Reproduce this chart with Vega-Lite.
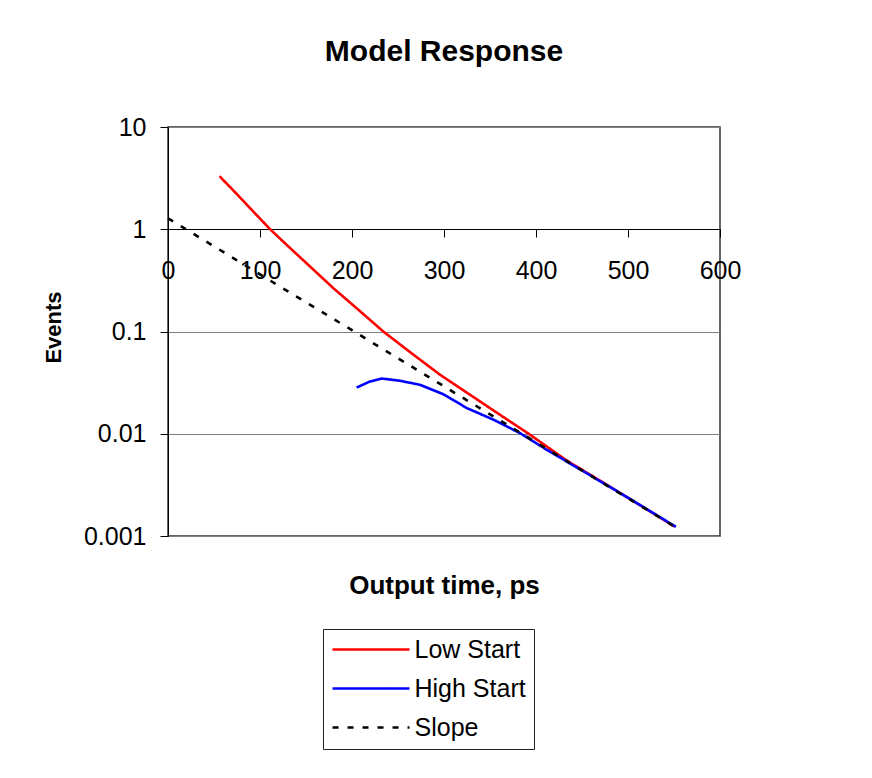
{
  "$schema": "https://vega.github.io/schema/vega-lite/v6.json",
  "width": 552,
  "height": 409,
  "autosize": {"type": "none"},
  "padding": {"left": 168, "top": 127, "right": 152, "bottom": 242},
  "background": "white",
  "title": {"text": "Model Response", "fontSize": 30, "fontWeight": "bold", "font": "Liberation Sans", "color": "#000", "anchor": "middle", "offset": 48},
  "data": {"values": [
    {"s": "Low Start", "t": 56, "v": 3.3},
    {"s": "Low Start", "t": 75, "v": 2.2},
    {"s": "Low Start", "t": 90, "v": 1.58},
    {"s": "Low Start", "t": 111, "v": 1.0},
    {"s": "Low Start", "t": 130, "v": 0.69},
    {"s": "Low Start", "t": 150, "v": 0.47},
    {"s": "Low Start", "t": 180, "v": 0.264},
    {"s": "Low Start", "t": 205, "v": 0.169},
    {"s": "Low Start", "t": 234, "v": 0.1},
    {"s": "Low Start", "t": 265, "v": 0.061},
    {"s": "Low Start", "t": 296, "v": 0.0376},
    {"s": "Low Start", "t": 330, "v": 0.0235},
    {"s": "Low Start", "t": 360, "v": 0.0155},
    {"s": "Low Start", "t": 392, "v": 0.01},
    {"s": "Low Start", "t": 433, "v": 0.0055},
    {"s": "Low Start", "t": 470, "v": 0.00346},
    {"s": "Low Start", "t": 510, "v": 0.00208},
    {"s": "Low Start", "t": 551, "v": 0.00123},
    {"s": "High Start", "t": 205, "v": 0.0283},
    {"s": "High Start", "t": 218, "v": 0.032},
    {"s": "High Start", "t": 232, "v": 0.0347},
    {"s": "High Start", "t": 252, "v": 0.033},
    {"s": "High Start", "t": 274, "v": 0.0301},
    {"s": "High Start", "t": 299, "v": 0.0244},
    {"s": "High Start", "t": 325, "v": 0.0178},
    {"s": "High Start", "t": 354, "v": 0.0137},
    {"s": "High Start", "t": 383, "v": 0.0101},
    {"s": "High Start", "t": 412, "v": 0.00694},
    {"s": "High Start", "t": 450, "v": 0.00437},
    {"s": "High Start", "t": 500, "v": 0.00237},
    {"s": "High Start", "t": 552, "v": 0.00123},
    {"s": "Slope", "t": 0, "v": 1.28},
    {"s": "Slope", "t": 25, "v": 0.933},
    {"s": "Slope", "t": 50, "v": 0.681},
    {"s": "Slope", "t": 75, "v": 0.497},
    {"s": "Slope", "t": 100, "v": 0.362},
    {"s": "Slope", "t": 125, "v": 0.264},
    {"s": "Slope", "t": 150, "v": 0.193},
    {"s": "Slope", "t": 175, "v": 0.141},
    {"s": "Slope", "t": 200, "v": 0.103},
    {"s": "Slope", "t": 225, "v": 0.075},
    {"s": "Slope", "t": 250, "v": 0.0547},
    {"s": "Slope", "t": 275, "v": 0.0399},
    {"s": "Slope", "t": 300, "v": 0.0291},
    {"s": "Slope", "t": 325, "v": 0.0212},
    {"s": "Slope", "t": 350, "v": 0.0155},
    {"s": "Slope", "t": 375, "v": 0.0113},
    {"s": "Slope", "t": 400, "v": 0.00824},
    {"s": "Slope", "t": 425, "v": 0.00602},
    {"s": "Slope", "t": 450, "v": 0.00439},
    {"s": "Slope", "t": 475, "v": 0.0032},
    {"s": "Slope", "t": 500, "v": 0.00234},
    {"s": "Slope", "t": 525, "v": 0.00171},
    {"s": "Slope", "t": 551, "v": 0.00123}
  ]},
  "mark": {"type": "line", "clip": false, "strokeWidth": 2.6},
  "encoding": {
    "x": {
      "field": "t", "type": "quantitative",
      "scale": {"domain": [0, 600], "nice": false},
      "axis": {
        "values": [0, 100, 200, 300, 400, 500, 600],
        "offset": -307, "grid": false,
        "domainColor": "#000", "tickColor": "#000", "tickSize": 8,
        "labelFontSize": 25, "labelColor": "#000", "labelBaseline": "alphabetic",
        "labelPadding": 41, "labelFlush": false, "labelOverlap": false,
        "title": "Output time, ps", "titleFontSize": 26, "titleFontWeight": "bold",
        "titleColor": "#000", "titleBaseline": "alphabetic", "titleY": 364, "titleX": 276
      }
    },
    "y": {
      "field": "v", "type": "quantitative",
      "scale": {"type": "log", "domain": [0.001, 10], "nice": false},
      "axis": {
        "values": [0.001, 0.01, 0.1, 1, 10], "format": "~g",
        "grid": true, "gridColor": "#808080", "gridWidth": 1,
        "domainColor": "#000", "tickColor": "#000", "tickSize": 8,
        "labelFontSize": 25, "labelPadding": 14, "labelColor": "#000",
        "title": "Events", "titleFontSize": 22, "titleFontWeight": "bold",
        "titleX": -108, "titleY": 200, "titleBaseline": "alphabetic", "titleColor": "#000"
      }
    },
    "color": {
      "field": "s", "type": "nominal",
      "scale": {"domain": ["Low Start", "High Start", "Slope"], "range": ["#FF0000", "#0000FF", "#000000"]},
      "legend": {
        "orient": "none", "legendX": 155, "legendY": 502, "title": null,
        "direction": "vertical", "strokeColor": "#222", "fillColor": "#fff",
        "padding": 8, "symbolType": "M-4,0H4", "symbolSize": 370,
        "symbolStrokeWidth": 2.6, "symbolOffset": 27.5, "labelOffset": 31,
        "labelFontSize": 25, "labelColor": "#000", "rowPadding": 13, "labelLimit": 300
      }
    },
    "strokeDash": {
      "field": "s", "type": "nominal",
      "scale": {"domain": ["Low Start", "High Start", "Slope"], "range": [[1, 0], [1, 0], [6, 9]]}
    }
  },
  "config": {
    "font": "Liberation Sans",
    "view": {"stroke": "#333", "strokeWidth": 1.5}
  }
}
